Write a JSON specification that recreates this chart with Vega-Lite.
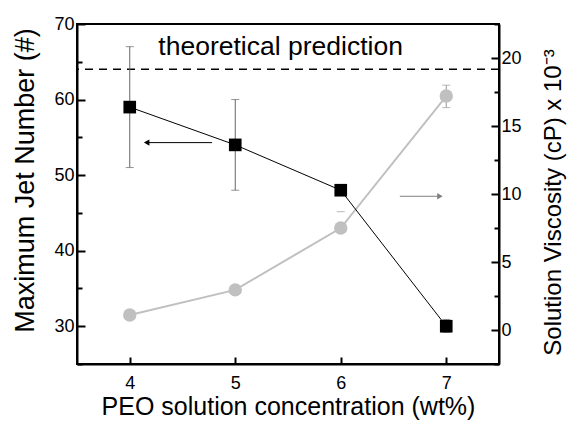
{
  "$schema": "https://vega.github.io/schema/vega-lite/v6.json",
  "width": 422,
  "height": 340,
  "autosize": {"type": "none"},
  "padding": {"left": 77, "top": 24, "right": 70, "bottom": 57},
  "background": "white",
  "config": {
    "view": {"stroke": "black", "strokeWidth": 2},
    "axis": {
      "grid": false,
      "domainColor": "black",
      "domainWidth": 2,
      "tickColor": "black",
      "tickWidth": 2,
      "tickCount": 40,
      "labelFont": "Liberation Sans",
      "labelFontSize": 18,
      "labelColor": "black",
      "titleFont": "Liberation Sans",
      "titleFontSize": 26,
      "titleFontWeight": "normal",
      "titleColor": "black",
      "labelFlush": false,
      "labelOverlap": false
    }
  },
  "datasets": {
    "jets": [
      {"conc": 4, "jets": 59},
      {"conc": 5, "jets": 54},
      {"conc": 6, "jets": 48},
      {"conc": 7, "jets": 30}
    ],
    "jeterr": [
      {"conc": 4, "lo": 51, "hi": 67},
      {"conc": 5, "lo": 48, "hi": 60},
      {"conc": 7, "lo": 29.2, "hi": 30.9}
    ],
    "jetcap": [
      {"conc": 4, "v": 51}, {"conc": 4, "v": 67},
      {"conc": 5, "v": 48}, {"conc": 5, "v": 60},
      {"conc": 7, "v": 29.2}, {"conc": 7, "v": 30.9}
    ],
    "visc": [
      {"conc": 4, "visc": 1.1},
      {"conc": 5, "visc": 2.95},
      {"conc": 6, "visc": 7.5},
      {"conc": 7, "visc": 17.2}
    ],
    "viscerr": [
      {"conc": 7, "lo": 16.35, "hi": 18.0}
    ],
    "visccap": [
      {"conc": 6, "v": 8.7},
      {"conc": 7, "v": 16.35},
      {"conc": 7, "v": 18.0}
    ],
    "theory": [
      {"jets": 64, "conc": 5.43, "ty": 65.95, "label": "theoretical prediction"}
    ],
    "arrows": [
      {"x1": 4.78, "x2": 4.16, "y": 54.3, "dir": "left"},
      {"x1": 6.56, "x2": 6.94, "y": 47.2, "dir": "right"}
    ]
  },
  "layer": [
    {
      "layer": [
        {
          "data": {"name": "viscerr"},
          "mark": {"type": "rule", "color": "#999999", "strokeWidth": 1},
          "encoding": {
            "x": {"field": "conc", "type": "quantitative", "scale": {"domain": [3.5, 7.5], "nice": false, "zero": false}},
            "y": {"field": "lo", "type": "quantitative", "scale": {"domain": [-2.5, 22.5], "nice": false, "zero": false},
              "axis": {
                "orient": "right",
                "title": "Solution Viscosity (cP) x 10⁻³",
                "titleFontSize": 24,
                "titleAngle": -90,
                "titleBaseline": "alphabetic",
                "titleAlign": "center",
                "titleX": 61,
                "titleY": 178,
                "values": [-2.5, 0, 2.5, 5, 7.5, 10, 12.5, 15, 17.5, 20, 22.5],
                "format": "d",
                "labelExpr": "(datum.value % 5 == 0) ? datum.label : ''",
                "tickSize": {"condition": {"test": "datum.value % 5 == 0", "value": -8}, "value": -5},
                "labelPadding": 10
              }},
            "y2": {"field": "hi"}
          }
        },
        {
          "data": {"name": "visccap"},
          "mark": {"type": "tick", "orient": "horizontal", "color": "#999999", "size": 8, "thickness": 1},
          "encoding": {
            "x": {"field": "conc", "type": "quantitative", "scale": {"domain": [3.5, 7.5], "nice": false, "zero": false}},
            "y": {"field": "v", "type": "quantitative", "scale": {"domain": [-2.5, 22.5], "nice": false, "zero": false}}
          }
        },
        {
          "data": {"name": "visc"},
          "mark": {"type": "line", "color": "#c0c0c0", "strokeWidth": 2},
          "encoding": {
            "x": {"field": "conc", "type": "quantitative", "scale": {"domain": [3.5, 7.5], "nice": false, "zero": false}},
            "y": {"field": "visc", "type": "quantitative", "scale": {"domain": [-2.5, 22.5], "nice": false, "zero": false}}
          }
        },
        {
          "data": {"name": "visc"},
          "mark": {"type": "point", "shape": "circle", "filled": true, "color": "#c0c0c0", "opacity": 1, "size": 180},
          "encoding": {
            "x": {"field": "conc", "type": "quantitative", "scale": {"domain": [3.5, 7.5], "nice": false, "zero": false}},
            "y": {"field": "visc", "type": "quantitative", "scale": {"domain": [-2.5, 22.5], "nice": false, "zero": false}}
          }
        }
      ]
    },
    {
      "layer": [
        {
          "data": {"name": "theory"},
          "mark": {"type": "rule", "color": "black", "strokeWidth": 1.5, "strokeDash": [8, 6]},
          "encoding": {
            "y": {"field": "jets", "type": "quantitative", "scale": {"domain": [25, 70], "nice": false, "zero": false},
              "axis": {
                "orient": "left",
                "title": "Maximum Jet Number (#)",
                "titleFontSize": 27,
                "titleAngle": -90,
                "titleBaseline": "alphabetic",
                "titleAlign": "center",
                "titleX": -44,
                "titleY": 156,
                "values": [25, 30, 35, 40, 45, 50, 55, 60, 65, 70],
                "format": "d",
                "labelExpr": "(datum.value % 10 == 0) ? datum.label : ''",
                "tickSize": {"condition": {"test": "datum.value % 10 == 0", "value": -8}, "value": -5},
                "labelPadding": 11
              }}
          }
        },
        {
          "data": {"name": "theory"},
          "mark": {"type": "text", "font": "Liberation Sans", "fontSize": 26.5, "color": "black", "align": "center", "baseline": "alphabetic"},
          "encoding": {
            "x": {"field": "conc", "type": "quantitative", "scale": {"domain": [3.5, 7.5], "nice": false, "zero": false}},
            "y": {"field": "ty", "type": "quantitative", "scale": {"domain": [25, 70], "nice": false, "zero": false}},
            "text": {"field": "label"}
          }
        },
        {
          "data": {"name": "jeterr"},
          "mark": {"type": "rule", "color": "#666666", "strokeWidth": 1},
          "encoding": {
            "x": {"field": "conc", "type": "quantitative", "scale": {"domain": [3.5, 7.5], "nice": false, "zero": false},
              "axis": {
                "orient": "bottom",
                "title": "PEO solution concentration (wt%)",
                "titleFontSize": 25,
                "values": [4, 4.5, 5, 5.5, 6, 6.5, 7],
                "format": "d",
                "labelExpr": "datum.value % 1 == 0 ? datum.label : ''",
                "tickSize": {"condition": {"test": "datum.value % 1 == 0", "value": -7}, "value": -4},
                "labelPadding": 17,
                "titlePadding": 2
              }},
            "y": {"field": "lo", "type": "quantitative", "scale": {"domain": [25, 70], "nice": false, "zero": false}},
            "y2": {"field": "hi"}
          }
        },
        {
          "data": {"name": "jetcap"},
          "mark": {"type": "tick", "orient": "horizontal", "color": "#666666", "size": 8, "thickness": 1},
          "encoding": {
            "x": {"field": "conc", "type": "quantitative", "scale": {"domain": [3.5, 7.5], "nice": false, "zero": false}},
            "y": {"field": "v", "type": "quantitative", "scale": {"domain": [25, 70], "nice": false, "zero": false}}
          }
        },
        {
          "data": {"name": "jets"},
          "mark": {"type": "line", "color": "black", "strokeWidth": 1},
          "encoding": {
            "x": {"field": "conc", "type": "quantitative", "scale": {"domain": [3.5, 7.5], "nice": false, "zero": false}},
            "y": {"field": "jets", "type": "quantitative", "scale": {"domain": [25, 70], "nice": false, "zero": false}}
          }
        },
        {
          "data": {"name": "jets"},
          "mark": {"type": "point", "shape": "square", "filled": true, "color": "black", "opacity": 1, "size": 160},
          "encoding": {
            "x": {"field": "conc", "type": "quantitative", "scale": {"domain": [3.5, 7.5], "nice": false, "zero": false}},
            "y": {"field": "jets", "type": "quantitative", "scale": {"domain": [25, 70], "nice": false, "zero": false}}
          }
        },
        {
          "data": {"name": "arrows"},
          "mark": {"type": "rule", "strokeWidth": 1},
          "encoding": {
            "x": {"field": "x1", "type": "quantitative", "scale": {"domain": [3.5, 7.5], "nice": false, "zero": false}},
            "x2": {"field": "x2"},
            "y": {"field": "y", "type": "quantitative", "scale": {"domain": [25, 70], "nice": false, "zero": false}},
            "color": {"condition": {"test": "datum.dir === 'left'", "value": "black"}, "value": "#808080"}
          }
        },
        {
          "data": {"name": "arrows"},
          "mark": {"type": "point", "filled": true, "opacity": 1, "size": 40},
          "encoding": {
            "x": {"field": "x2", "type": "quantitative", "scale": {"domain": [3.5, 7.5], "nice": false, "zero": false}},
            "y": {"field": "y", "type": "quantitative", "scale": {"domain": [25, 70], "nice": false, "zero": false}},
            "color": {"condition": {"test": "datum.dir === 'left'", "value": "black"}, "value": "#808080"},
            "shape": {"condition": {"test": "datum.dir === 'left'", "value": "triangle-left"}, "value": "triangle-right"}
          }
        }
      ]
    }
  ],
  "resolve": {"scale": {"y": "independent"}}
}
